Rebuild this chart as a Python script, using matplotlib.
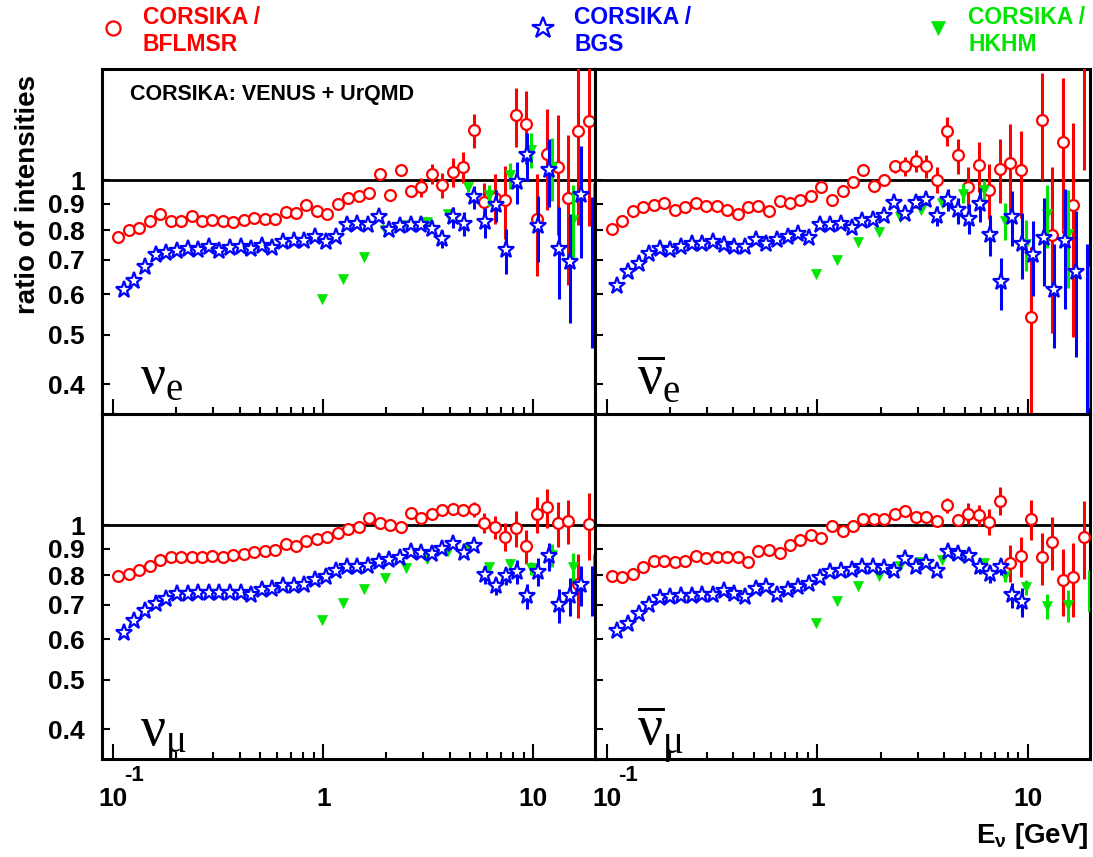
import numpy as np
import matplotlib
matplotlib.use("Agg")
import matplotlib.pyplot as plt
from matplotlib.ticker import FixedLocator, NullLocator, NullFormatter
from matplotlib.lines import Line2D

plt.rcParams['font.family'] = ['Liberation Sans', 'DejaVu Sans']
plt.rcParams['font.weight'] = 'bold'
plt.rcParams['mathtext.fontset'] = 'custom'
plt.rcParams['mathtext.rm'] = 'Liberation Sans:bold'
plt.rcParams['mathtext.bf'] = 'Liberation Sans:bold'
plt.rcParams['mathtext.it'] = 'Liberation Sans:bold'

# ---------------- data ----------------
E_circ = [0.1057, 0.1186, 0.1330, 0.1491, 0.1671, 0.1875, 0.2104, 0.2360, 0.2644, 0.2965,
          0.3327, 0.3733, 0.4188, 0.4691, 0.5260, 0.5902, 0.6622, 0.7430, 0.8318, 0.9333,
          1.047, 1.175, 1.318, 1.476, 1.656, 1.858, 2.084, 2.339, 2.618, 2.938,
          3.296, 3.698, 4.150, 4.645, 5.212, 5.848, 6.561, 7.362, 8.241, 9.247,
          10.38, 11.64, 13.06, 14.62, 16.41, 18.41]
E_star = [0.112, 0.126, 0.142, 0.159, 0.179, 0.201, 0.226, 0.254, 0.285, 0.320,
          0.360, 0.404, 0.454, 0.511, 0.573, 0.644, 0.724, 0.813, 0.914, 1.026,
          1.153, 1.296, 1.456, 1.636, 1.838, 2.065, 2.321, 2.607, 2.930, 3.291,
          3.698, 4.155, 4.669, 5.246, 5.894, 6.622, 7.440, 8.359, 9.392, 10.55,
          11.86, 13.32, 14.97, 16.82, 19.02]
E_tri = [0.982, 1.236, 1.556, 1.959, 2.466, 3.105, 3.908, 4.920, 6.194, 7.798,
         9.817, 12.36, 15.56, 19.59]

# nu_e
nue_bflmsr = [0.775, 0.801, 0.808, 0.835, 0.858, 0.835, 0.835, 0.853, 0.835, 0.838,
              0.835, 0.830, 0.838, 0.846, 0.840, 0.840, 0.866, 0.863, 0.895, 0.871,
              0.861, 0.901, 0.922, 0.931, 0.945, 1.031, 0.935, 1.049, 0.953, 0.970,
              1.031, 0.978, 1.038, 1.062, 1.252, 0.907, 0.925, 0.917, 1.339, 1.286,
              0.840, 1.127, 1.062, 0.924, 1.247, 1.306]
nue_bflmsr_err = [0, 0, 0, 0, 0, 0, 0, 0, 0, 0,
                  0, 0, 0, 0, 0, 0, 0, 0, 0, 0,
                  0, 0, 0, 0.01, 0.015, 0.02, 0.02, 0.02, 0.025, 0.042,
                  0.048, 0.055, 0.068, 0.075, 0.094, 0.082, 0.104, 0.15, 0.175, 0.21,
                  0.19, 0.25, 0.28, 0.30, 0.43, 0.49]
nue_bgs = [0.610, 0.635, 0.679, 0.714, 0.721, 0.728, 0.736, 0.730, 0.743, 0.728,
           0.739, 0.741, 0.734, 0.744, 0.739, 0.758, 0.760, 0.763, 0.775, 0.758,
           0.775, 0.817, 0.823, 0.820, 0.848, 0.801, 0.814, 0.820, 0.817, 0.805,
           0.769, 0.848, 0.823, 0.928, 0.829, 0.894, 0.730, 0.992, 1.119, 0.814,
           1.046, 0.736, 0.693, 0.935, 0.700]
nue_bgs_err = [0, 0, 0, 0, 0, 0, 0, 0, 0, 0,
               0, 0, 0, 0, 0, 0, 0, 0, 0, 0,
               0, 0, 0, 0, 0.01, 0.01, 0.01, 0.01, 0.01, 0.015,
               0.03, 0.041, 0.043, 0.047, 0.056, 0.066, 0.074, 0.094, 0.12, 0.12,
               0.16, 0.15, 0.165, 0.23, 0.23]
nue_hkhm = [0.588, 0.643, 0.708, 0.799, 0.820, 0.828, 0.861, 0.970, 0.935, 1.023,
            1.148, 1.062, 0.838, 0.840]
nue_hkhm_err = [0, 0, 0, 0, 0, 0, 0.015, 0.02, 0.045, 0.06, 0.09, 0.15, 0.14, 0.15]

# anti nu_e
anue_bflmsr = [0.805, 0.835, 0.871, 0.887, 0.897, 0.903, 0.877, 0.887, 0.903, 0.892,
               0.890, 0.877, 0.861, 0.887, 0.890, 0.871, 0.911, 0.903, 0.914, 0.931,
               0.973, 0.914, 0.952, 0.992, 1.049, 0.975, 1.003, 1.065, 1.065, 1.091,
               1.065, 1.003, 1.248, 1.119, 0.970, 1.070, 0.959, 1.054, 1.081, 1.046,
               0.541, 1.310, 0.784, 1.188, 0.894, 1.750]
anue_bflmsr_err = [0, 0, 0, 0, 0, 0, 0, 0, 0, 0,
                   0, 0, 0, 0, 0, 0, 0, 0, 0, 0,
                   0, 0, 0, 0.01, 0.01, 0.015, 0.015, 0.03, 0.044, 0.053,
                   0.056, 0.06, 0.082, 0.088, 0.09, 0.12, 0.12, 0.15, 0.21, 0.20,
                   0.20, 0.31, 0.28, 0.40, 0.40, 0.70]
anue_bgs = [0.621, 0.664, 0.688, 0.717, 0.736, 0.732, 0.741, 0.750, 0.752, 0.758,
            0.749, 0.741, 0.743, 0.764, 0.752, 0.766, 0.775, 0.787, 0.772, 0.820,
            0.817, 0.823, 0.808, 0.835, 0.838, 0.851, 0.903, 0.858, 0.903, 0.917,
            0.853, 0.917, 0.874, 0.842, 0.898, 0.784, 0.633, 0.848, 0.752, 0.714,
            0.773, 0.610, 0.761, 0.662, 0.500]
anue_bgs_err = [0, 0, 0, 0, 0, 0, 0, 0, 0, 0,
                0, 0, 0, 0, 0, 0, 0, 0, 0, 0,
                0, 0, 0, 0, 0, 0, 0.01, 0.01, 0.02, 0.02,
                0.04, 0.046, 0.052, 0.057, 0.067, 0.072, 0.074, 0.104, 0.11, 0.12,
                0.15, 0.14, 0.20, 0.21, 0.25]
anue_hkhm = [0.658, 0.698, 0.758, 0.793, 0.848, 0.874, 0.903, 0.942, 0.956, 0.835,
             0.752, 0.858, 0.787, 0.520]
anue_hkhm_err = [0, 0, 0, 0, 0, 0, 0.01, 0.04, 0.045, 0.07, 0.085, 0.12, 0.17, 0.16]

# nu_mu
numu_bflmsr = [0.796, 0.803, 0.820, 0.833, 0.856, 0.866, 0.866, 0.866, 0.868, 0.871,
               0.868, 0.874, 0.879, 0.887, 0.892, 0.895, 0.919, 0.911, 0.933, 0.942,
               0.948, 0.967, 0.982, 0.994, 1.032, 1.012, 1.001, 0.991, 1.058, 1.032,
               1.051, 1.071, 1.075, 1.071, 1.075, 1.012, 0.991, 0.950, 0.987, 0.911,
               1.051, 1.084, 1.009, 1.021, 0.770, 1.006]
numu_bflmsr_err = [0, 0, 0, 0, 0, 0, 0, 0, 0, 0,
                   0, 0, 0, 0, 0, 0, 0, 0, 0, 0,
                   0, 0, 0, 0, 0, 0, 0, 0, 0, 0,
                   0.01, 0.015, 0.02, 0.025, 0.035, 0.047, 0.05, 0.06, 0.08, 0.07,
                   0.085, 0.094, 0.10, 0.10, 0.11, 0.15]
numu_bgs = [0.617, 0.651, 0.681, 0.704, 0.720, 0.734, 0.734, 0.737, 0.739, 0.737,
            0.737, 0.739, 0.731, 0.747, 0.752, 0.761, 0.761, 0.766, 0.782, 0.792,
            0.815, 0.828, 0.830, 0.833, 0.849, 0.856, 0.862, 0.888, 0.884, 0.879,
            0.898, 0.919, 0.882, 0.911, 0.800, 0.761, 0.796, 0.812, 0.728, 0.812,
            0.871, 0.699, 0.728, 0.765, 0.750]
numu_bgs_err = [0, 0, 0, 0, 0, 0, 0, 0, 0, 0,
                0, 0, 0, 0, 0, 0, 0, 0, 0, 0,
                0, 0, 0, 0, 0, 0, 0, 0, 0, 0,
                0, 0.01, 0.01, 0.01, 0.033, 0.03, 0.03, 0.043, 0.04, 0.05,
                0.055, 0.054, 0.062, 0.07, 0.085]
numu_hkhm = [0.655, 0.706, 0.750, 0.788, 0.824, 0.858, 0.890, 0.902, 0.830, 0.839,
             0.824, 0.875, 0.830, 0.850]
numu_hkhm_err = [0, 0, 0, 0, 0, 0, 0, 0.01, 0.01, 0.02, 0.025, 0.046, 0.053, 0.03]

# anti nu_mu
anumu_bflmsr = [0.796, 0.792, 0.803, 0.828, 0.853, 0.853, 0.849, 0.853, 0.871, 0.862,
                0.868, 0.868, 0.866, 0.849, 0.892, 0.895, 0.884, 0.914, 0.936, 0.956,
                0.944, 0.997, 0.976, 0.997, 1.027, 1.027, 1.027, 1.052, 1.068, 1.037,
                1.037, 1.021, 1.095, 1.024, 1.055, 1.047, 1.016, 1.117, 0.845, 0.871,
                1.027, 0.866, 0.929, 0.784, 0.792, 0.950]
anumu_bflmsr_err = [0, 0, 0, 0, 0, 0, 0, 0, 0, 0,
                    0, 0, 0, 0, 0, 0, 0, 0, 0, 0,
                    0, 0, 0, 0, 0, 0, 0, 0, 0, 0,
                    0, 0, 0.037, 0.025, 0.05, 0.05, 0.06, 0.07, 0.07, 0.077,
                    0.092, 0.10, 0.11, 0.117, 0.13, 0.165]
anumu_bgs = [0.622, 0.641, 0.671, 0.699, 0.722, 0.725, 0.728, 0.728, 0.731, 0.731,
             0.745, 0.734, 0.725, 0.750, 0.757, 0.731, 0.747, 0.757, 0.770, 0.788,
             0.812, 0.815, 0.818, 0.830, 0.830, 0.824, 0.815, 0.858, 0.830, 0.845,
             0.815, 0.888, 0.879, 0.871, 0.830, 0.803, 0.830, 0.731, 0.709]
anumu_bgs_err = [0, 0, 0, 0, 0, 0, 0, 0, 0, 0,
                 0, 0, 0, 0, 0, 0, 0, 0, 0, 0,
                 0, 0, 0, 0, 0, 0, 0, 0, 0, 0,
                 0, 0, 0, 0, 0.025, 0.03, 0.03, 0.04, 0.045]
anumu_hkhm = [0.645, 0.711, 0.761, 0.796, 0.833, 0.849, 0.856, 0.862, 0.845, 0.796,
              0.757, 0.696, 0.699, 0.748]
anumu_hkhm_err = [0, 0, 0, 0, 0, 0, 0, 0, 0.01, 0.02, 0.025, 0.04, 0.05, 0.07]

series_names = ['CORSIKA /\nBFLMSR', 'CORSIKA /\nBGS', 'CORSIKA /\nHKHM']
panel_labels = [r'$\mathregular{ν_{e}}$', r'$\overline{\mathregular{ν}}_{\mathregular{e}}$',
                r'$\mathregular{ν_{μ}}$', r'$\overline{\mathregular{ν}}_{\mathregular{μ}}$']
ytick_vals = [0.4, 0.5, 0.6, 0.7, 0.8, 0.9, 1.0]
ytick_labels = ['0.4', '0.5', '0.6', '0.7', '0.8', '0.9', '1']
xtick_vals = [0.1, 1, 10]
xtick_labels = ['10', '1', '10']
xminor_vals = [0.2, 0.3, 0.4, 0.5, 0.6, 0.7, 0.8, 0.9, 2, 3, 4, 5, 6, 7, 8, 9]

# ---------------- style ----------------
RED = '#ff0000'
BLUE = '#0000ff'
GREEN = '#00e600'
XLIM = (0.0881, 19.7)
YLIM = (0.35, 1.65)
MARKER_XMAX = 18.7

styles = {
    'circ': dict(marker='o', ms=7.8, mfc='white', mec=RED, mew=1.6, color=RED),
    'star': dict(marker='*', ms=12.5, mfc='white', mec=BLUE, mew=1.6, color=BLUE),
    'tri': dict(marker='v', ms=7.5, mfc=GREEN, mec=GREEN, mew=0.5, color=GREEN),
}

W, H = 1093, 857
fig = plt.figure(figsize=(W / 100, H / 100), dpi=100)

def fx(px):
    return px / W

def fy(py):
    return 1 - py / H

left_x0, left_x1, right_x1 = 101.7, 595.0, 1090.0
top_y0, mid_y, bot_y1 = 69.0, 414.0, 759.0
axes_rects = [
    (fx(left_x0), fy(mid_y), fx(left_x1 - left_x0), (mid_y - top_y0) / H),
    (fx(left_x1), fy(mid_y), fx(right_x1 - left_x1), (mid_y - top_y0) / H),
    (fx(left_x0), fy(bot_y1), fx(left_x1 - left_x0), (bot_y1 - mid_y) / H),
    (fx(left_x1), fy(bot_y1), fx(right_x1 - left_x1), (bot_y1 - mid_y) / H),
]

panels = [
    (nue_bflmsr, nue_bflmsr_err, nue_bgs, nue_bgs_err, nue_hkhm, nue_hkhm_err),
    (anue_bflmsr, anue_bflmsr_err, anue_bgs, anue_bgs_err, anue_hkhm, anue_hkhm_err),
    (numu_bflmsr, numu_bflmsr_err, numu_bgs, numu_bgs_err, numu_hkhm, numu_hkhm_err),
    (anumu_bflmsr, anumu_bflmsr_err, anumu_bgs, anumu_bgs_err, anumu_hkhm, anumu_hkhm_err),
]

def draw_series(ax, E, v, err, key, z):
    st = styles[key]
    n = len(v)
    E = np.asarray(E[:n]); v = np.asarray(v, float); err = np.asarray(err, float)
    ax.errorbar(E, v, yerr=err, fmt='none', ecolor=st['color'], elinewidth=2.2,
                capsize=0, zorder=z)
    m = E <= MARKER_XMAX
    ax.plot(E[m], v[m], linestyle='none', marker=st['marker'], ms=st['ms'],
            mfc=st['mfc'], mec=st['mec'], mew=st['mew'], zorder=z + 0.5)

for i, (rect, data) in enumerate(zip(axes_rects, panels)):
    ax = fig.add_axes(rect)
    ax.set_xscale('log')
    ax.set_yscale('log')
    ax.set_xlim(*XLIM)
    ax.set_ylim(*YLIM)
    ax.axhline(1.0, color='black', lw=2.0, zorder=1.5)
    c, ce, s, se, t, te = data
    draw_series(ax, E_circ, c, ce, 'circ', 3)
    draw_series(ax, E_tri, t, te, 'tri', 4)
    draw_series(ax, E_star, s, se, 'star', 5)

    for sp in ax.spines.values():
        sp.set_linewidth(2.2)
    ax.yaxis.set_major_locator(FixedLocator(ytick_vals))
    ax.yaxis.set_minor_locator(NullLocator())
    ax.xaxis.set_major_locator(FixedLocator(xtick_vals))
    ax.xaxis.set_minor_locator(FixedLocator(xminor_vals))
    ax.xaxis.set_minor_formatter(NullFormatter())
    ax.yaxis.set_minor_formatter(NullFormatter())
    ax.tick_params(which='both', direction='in', top=False, right=False)
    ax.tick_params(axis='y', which='major', length=6, width=1.5, pad=12, labelsize=19)
    ax.tick_params(axis='x', which='major', length=11, width=1.5, pad=20, labelsize=19)
    ax.tick_params(axis='x', which='minor', length=5, width=1.5)

    if i in (0, 2):
        ax.set_yticklabels(ytick_labels, fontweight='bold')
    else:
        ax.set_yticklabels([])
    if i in (2, 3):
        ax.set_xticklabels(xtick_labels, fontweight='bold')
        ax.annotate('-1', xy=(0.1, 0), xycoords=('data', 'axes fraction'),
                    xytext=(8, -4), textcoords='offset points', ha='left', va='top',
                    fontsize=16, fontweight='bold', annotation_clip=False)
    else:
        ax.set_xticklabels([])

    lx = 0.078 if i in (0, 2) else 0.085
    ly = 0.061 if i in (0, 1) else 0.038
    ax.text(lx, ly, panel_labels[i], transform=ax.transAxes, ha='left', va='baseline',
            fontsize=40, fontweight='normal', family=['Liberation Serif', 'DejaVu Serif'])

    if i == 0:
        ax.text(0.057, 0.925, 'CORSIKA: VENUS + UrQMD', transform=ax.transAxes,
                ha='left', va='center', fontsize=15.5, fontweight='bold')

# axis titles
fig.text(fx(28), fy(195), 'ratio of intensities', rotation=90, ha='center', va='center',
         fontsize=20, fontweight='bold')
fig.text(fx(1089), fy(836), r'$\mathbf{E}_{\nu}$ [GeV]', ha='right', va='center',
         fontsize=20, fontweight='bold')

# legend
leg_marker_x = [113, 543, 938]
leg_text_x = [143, 574, 968]
leg_keys = ['circ', 'star', 'tri']
leg_colors = [RED, BLUE, GREEN]
for mx, tx, key, col, name in zip(leg_marker_x, leg_text_x, leg_keys, leg_colors, series_names):
    st = styles[key]
    fig.add_artist(Line2D([fx(mx)], [fy(28)], transform=fig.transFigure, linestyle='none',
                          marker=st['marker'], ms=st['ms'] * 1.3, mfc=st['mfc'],
                          mec=st['mec'], mew=st['mew']))
    fig.text(fx(tx), fy(31), name, ha='left', va='center', color=col,
             fontsize=16.5, fontweight='bold', linespacing=1.2)

fig.savefig('out.png', dpi=100)
